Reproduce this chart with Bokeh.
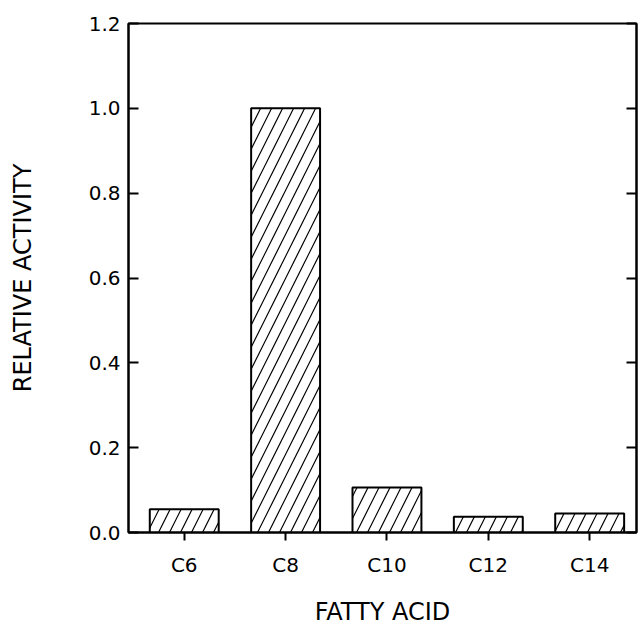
from bokeh.plotting import figure
from bokeh.models import Range1d, FixedTicker, PrintfTickFormatter, LinearAxis, CustomLabelingPolicy
from bokeh.embed import file_html
from bokeh.resources import INLINE

categories = ["C6", "C8", "C10", "C12", "C14"]
activity = [0.055, 1.0, 0.106, 0.037, 0.045]
y_ticks = [0.0, 0.2, 0.4, 0.6, 0.8, 1.0, 1.2]

xs = list(range(len(categories)))
FONT = "DejaVu Sans"
TICK_FS = "20px"
LABEL_FS = "24px"

p = figure(width=640, height=628, output_backend="svg", toolbar_location=None,
           x_range=Range1d(-0.55, len(categories) - 0.538), y_range=Range1d(0, 1.2),
           min_border_left=128, min_border_top=23, min_border_bottom=95, min_border_right=2)
p.grid.visible = False
p.outline_line_color = "black"
p.outline_line_width = 2
p.background_fill_color = "white"
p.border_fill_color = "white"

p.vbar(x=xs, top=activity, width=0.68, bottom=0,
       fill_color="white", line_color="black", line_width=2,
       hatch_pattern="/", hatch_color="black", hatch_weight=1.2, hatch_scale=22)

xa = p.xaxis[0]
xa.ticker = FixedTicker(ticks=xs)
xa.major_label_overrides = {i: c for i, c in zip(xs, categories)}
xa.minor_tick_line_color = None
xa.major_tick_in = 0
xa.major_tick_out = 8
xa.major_tick_line_width = 2
xa.axis_line_width = 2
xa.major_label_standoff = 12
xa.major_label_text_font = FONT
xa.major_label_text_font_size = TICK_FS
xa.major_label_text_color = "black"
xa.axis_label = "FATTY ACID"
xa.axis_label_text_font = FONT
xa.axis_label_text_font_size = LABEL_FS
xa.axis_label_text_font_style = "normal"
xa.axis_label_text_color = "black"
xa.axis_label_standoff = 18

ya = p.yaxis[0]
ya.ticker = FixedTicker(ticks=y_ticks)
ya.formatter = PrintfTickFormatter(format="%.1f")
ya.minor_tick_line_color = None
ya.major_tick_in = 10
ya.major_tick_out = 0
ya.major_tick_line_width = 2
ya.axis_line_width = 2
ya.major_label_standoff = 8
ya.major_label_text_font = FONT
ya.major_label_text_font_size = TICK_FS
ya.major_label_text_color = "black"
ya.axis_label = "RELATIVE ACTIVITY"
ya.axis_label_text_font = FONT
ya.axis_label_text_font_size = LABEL_FS
ya.axis_label_text_font_style = "normal"
ya.axis_label_text_color = "black"
ya.axis_label_standoff = 49

no_labels = CustomLabelingPolicy(code="const all = [...indices]; for (const i of all) { indices.unset(i) } return indices")
ra = LinearAxis(ticker=FixedTicker(ticks=y_ticks), major_tick_in=10, major_tick_out=0,
                major_tick_line_width=2, axis_line_width=2, minor_tick_line_color=None,
                major_label_policy=no_labels, major_label_standoff=0,
                major_label_text_font_size="1px")
p.add_layout(ra, "right")

open("out.html", "w").write(file_html(p, INLINE))
